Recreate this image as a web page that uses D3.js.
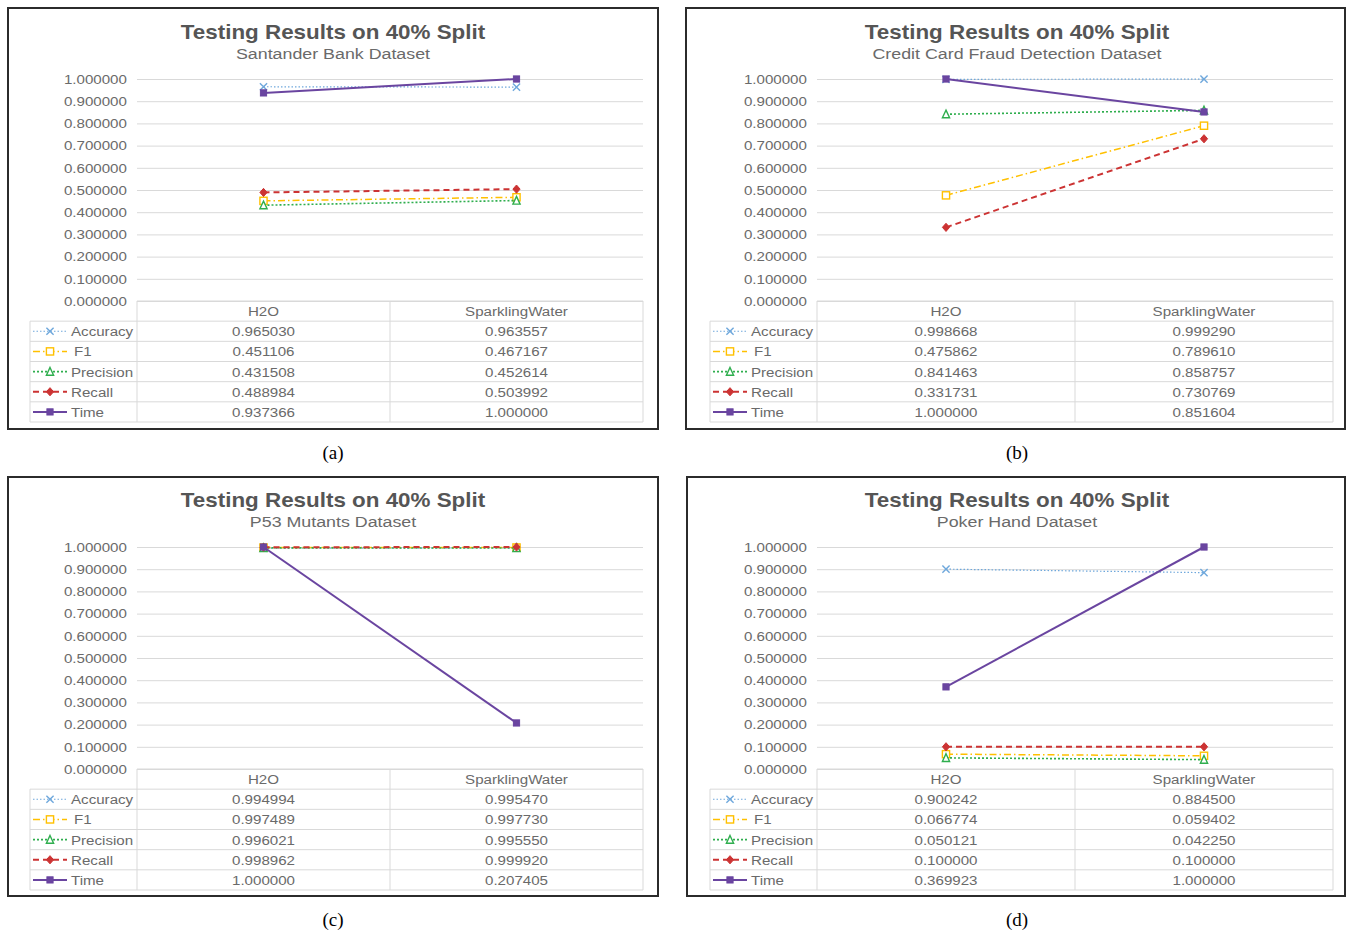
<!DOCTYPE html>
<html><head><meta charset="utf-8">
<script src="https://cdn.jsdelivr.net/npm/d3@7"></script>
<style>body{margin:0;background:#fff} svg{display:block}</style>
</head><body><svg id="c" width="1349" height="936"></svg>
<script>
// ---------- DATA ----------
const categories = ["H2O", "SparklingWater"];
const seriesNames = ["Accuracy", "F1", "Precision", "Recall", "Time"];
const yTicks = [0, 0.1, 0.2, 0.3, 0.4, 0.5, 0.6, 0.7, 0.8, 0.9, 1.0];
const chartTitle = "Testing Results on 40% Split";
const datasetNames = ["Santander Bank Dataset", "Credit Card Fraud Detection Dataset", "P53 Mutants Dataset", "Poker Hand Dataset"];
const captions = ["(a)", "(b)", "(c)", "(d)"];
// rows: Accuracy, F1, Precision, Recall, Time ; columns: H2O, SparklingWater
const santanderValues = [[0.965030, 0.963557], [0.451106, 0.467167], [0.431508, 0.452614], [0.488984, 0.503992], [0.937366, 1.000000]];
const creditCardValues = [[0.998668, 0.999290], [0.475862, 0.789610], [0.841463, 0.858757], [0.331731, 0.730769], [1.000000, 0.851604]];
const p53Values = [[0.994994, 0.995470], [0.997489, 0.997730], [0.996021, 0.995550], [0.998962, 0.999920], [1.000000, 0.207405]];
const pokerValues = [[0.900242, 0.884500], [0.066774, 0.059402], [0.050121, 0.042250], [0.100000, 0.100000], [0.369923, 1.000000]];
const allValues = [santanderValues, creditCardValues, p53Values, pokerValues];

// ---------- LAYOUT / STYLE ----------
const panels = [
  {box: [8, 8, 658, 429], plot: [137, 643], legendLeft: 30, yo: 0, cx: 333, capY: 459},
  {box: [686, 8, 1345, 429], plot: [817, 1333], legendLeft: 710, yo: 0, cx: 1017, capY: 459},
  {box: [8, 477, 658, 896], plot: [137, 643], legendLeft: 30, yo: 468, cx: 333, capY: 926},
  {box: [687, 477, 1345, 896], plot: [817, 1333], legendLeft: 710, yo: 468, cx: 1017, capY: 926}
];
const styles = {
  Accuracy: {color: "#6fa8dc", width: 1.2, dash: "1.5,2", marker: "x"},
  F1: {color: "#ffc000", width: 1.5, dash: "7,3,1.5,3", marker: "squareOpen"},
  Precision: {color: "#2fae4e", width: 1.6, dash: "2,2", marker: "triangle"},
  Recall: {color: "#cc3333", width: 2, dash: "6,4", marker: "diamond"},
  Time: {color: "#6a45a0", width: 2, dash: null, marker: "square"}
};
const SX = 1.12;
const FONT = "'Liberation Sans', Arial, sans-serif";
const TXT = "#6a6a6a";
const GRID = "#d9d9d9";

const svg = d3.select("#c");
svg.append("rect").attr("width", 1349).attr("height", 936).attr("fill", "#fff");

function T(g, x, y, s, o = {}) {
  return g.append("text")
    .attr("transform", `translate(${x},${y}) scale(${o.sx ?? SX},1)`)
    .attr("text-anchor", o.anchor || "middle")
    .attr("font-family", o.family || FONT)
    .attr("font-size", o.size || 13.5)
    .attr("font-weight", o.weight || "normal")
    .attr("fill", o.fill || TXT)
    .text(s);
}

function drawMarker(g, type, x, y, color) {
  const s = 3.6;
  if (type === "x") {
    g.append("path").attr("d", `M${x - s},${y - s}L${x + s},${y + s}M${x - s},${y + s}L${x + s},${y - s}`)
      .attr("stroke", color).attr("stroke-width", 1.4).attr("fill", "none");
  } else if (type === "squareOpen") {
    g.append("rect").attr("x", x - s).attr("y", y - s).attr("width", 2 * s).attr("height", 2 * s)
      .attr("fill", "#fff").attr("stroke", color).attr("stroke-width", 1.4);
  } else if (type === "triangle") {
    g.append("path").attr("d", `M${x},${y - s - 0.5}L${x + s},${y + s}L${x - s},${y + s}Z`)
      .attr("fill", "#fff").attr("stroke", color).attr("stroke-width", 1.4);
  } else if (type === "diamond") {
    g.append("path").attr("d", `M${x},${y - s - 0.5}L${x + s},${y}L${x},${y + s + 0.5}L${x - s},${y}Z`)
      .attr("fill", color).attr("stroke", color).attr("stroke-width", 1);
  } else {
    g.append("rect").attr("x", x - s + 0.5).attr("y", y - s + 0.5).attr("width", 2 * s - 1).attr("height", 2 * s - 1)
      .attr("fill", color).attr("stroke", color).attr("stroke-width", 1);
  }
}

panels.forEach((p, i) => {
  const values = allValues[i];
  const g = svg.append("g");
  const [bx0, by0, bx1, by1] = p.box;
  const yo = p.yo;

  // border
  g.append("rect").attr("x", bx0).attr("y", by0).attr("width", bx1 - bx0).attr("height", by1 - by0)
    .attr("fill", "#fff").attr("stroke", "#2b2b2b").attr("stroke-width", 2);

  // titles
  T(g, p.cx, 39 + yo, chartTitle, {size: 20, weight: "bold", fill: "#555555", sx: 1.12});
  T(g, p.cx, 59 + yo, datasetNames[i], {size: 15.5, fill: TXT, sx: 1.15});

  // scales
  const x = d3.scaleBand().domain(categories).range(p.plot);
  const y = d3.scaleLinear().domain([0, 1]).range([301 + yo, 79 + yo]);

  // y axis + gridlines
  const ax = g.append("g").attr("transform", `translate(${p.plot[0]},0)`)
    .call(d3.axisLeft(y).tickValues(yTicks).tickFormat(d3.format(".6f"))
      .tickSizeInner(-(p.plot[1] - p.plot[0])).tickSizeOuter(0).tickPadding(9));
  ax.select(".domain").remove();
  ax.selectAll(".tick line").attr("stroke", GRID).attr("stroke-width", 1);
  ax.selectAll(".tick text").attr("fill", TXT).attr("font-family", FONT).attr("font-size", 13.5)
    .attr("transform", `scale(${SX},1)`);

  // table
  const rows = d3.scaleBand().domain(["header", ...seriesNames]).range([301 + yo, 422 + yo]);
  const tg = g.append("g");
  const L = p.legendLeft, X0 = p.plot[0], X1 = p.plot[1];
  tg.append("line").attr("x1", X0).attr("x2", X1).attr("y1", rows("header")).attr("y2", rows("header"));
  seriesNames.forEach(s => {
    tg.append("line").attr("x1", L).attr("x2", X1).attr("y1", rows(s)).attr("y2", rows(s));
  });
  tg.append("line").attr("x1", L).attr("x2", X1).attr("y1", 422 + yo).attr("y2", 422 + yo);
  tg.append("line").attr("x1", L).attr("x2", L).attr("y1", rows(seriesNames[0])).attr("y2", 422 + yo);
  tg.append("line").attr("x1", X0).attr("x2", X0).attr("y1", 301 + yo).attr("y2", 422 + yo);
  tg.append("line").attr("x1", x(categories[1])).attr("x2", x(categories[1])).attr("y1", 301 + yo).attr("y2", 422 + yo);
  tg.append("line").attr("x1", X1).attr("x2", X1).attr("y1", 301 + yo).attr("y2", 422 + yo);
  tg.selectAll("line").attr("stroke", GRID).attr("stroke-width", 1);

  const rh = rows.bandwidth();
  categories.forEach(c => T(tg, x(c) + x.bandwidth() / 2, rows("header") + rh / 2 + 5, c));
  seriesNames.forEach((s, k) => {
    const cy = rows(s) + rh / 2;
    categories.forEach((c, j) => T(tg, x(c) + x.bandwidth() / 2, cy + 5, d3.format(".6f")(values[k][j])));
    const st = styles[s];
    tg.append("line").attr("x1", L + 3).attr("x2", L + 37).attr("y1", cy).attr("y2", cy)
      .attr("stroke", st.color).attr("stroke-width", st.width).attr("stroke-dasharray", st.dash);
    drawMarker(tg, st.marker, L + 20, cy, st.color);
    T(tg, L + (s === "F1" ? 44 : 41), cy + 5, s, {anchor: "start"});
  });

  // series lines
  const line = d3.line().x((d, j) => x(categories[j]) + x.bandwidth() / 2).y(d => y(d));
  seriesNames.forEach((s, k) => {
    const st = styles[s];
    g.append("path").datum(values[k]).attr("d", line).attr("fill", "none")
      .attr("stroke", st.color).attr("stroke-width", st.width).attr("stroke-dasharray", st.dash);
    values[k].forEach((v, j) => drawMarker(g, st.marker, x(categories[j]) + x.bandwidth() / 2, y(v), st.color));
  });

  // caption
  T(svg, p.cx, p.capY, captions[i], {size: 19, family: "'Liberation Serif', 'Times New Roman', serif", fill: "#000", sx: 1});
});
</script>
</body></html>
